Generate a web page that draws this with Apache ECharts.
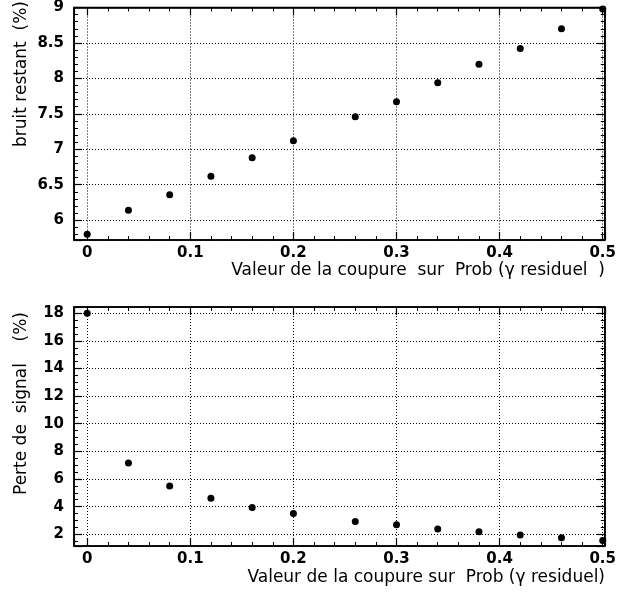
<!DOCTYPE html>
<html>
<head>
<meta charset="utf-8">
<script src="https://cdn.jsdelivr.net/npm/echarts@6/dist/echarts.min.js"></script>
<style>
html,body{margin:0;padding:0;background:#fff;}
#c{width:619px;height:595px;}
</style>
</head>
<body>
<div id="c"></div>
<script>
// Data
var cutValues = [0, 0.04, 0.08, 0.12, 0.16, 0.20, 0.26, 0.30, 0.34, 0.38, 0.42, 0.46, 0.50];
var bruitRestant = [5.80, 6.14, 6.36, 6.62, 6.88, 7.12, 7.46, 7.67, 7.94, 8.20, 8.42, 8.70, 8.98];
var perteSignal = [18.0, 7.16, 5.49, 4.61, 3.93, 3.50, 2.92, 2.68, 2.38, 2.19, 1.95, 1.75, 1.54];
var xTitleTop = 'Valeur de la coupure  sur  Prob (\u03b3 residuel  )';
var xTitleBottom = 'Valeur de la coupure sur  Prob (\u03b3 residuel)';
var yTitleTop = 'bruit restant  (%)';
var yTitleBottom = 'Perte de  signal    (%)';

var FONT = 'DejaVu Sans';
var TITLE_FONT = '17px "DejaVu Sans"';
function pairs(xs, ys){ return xs.map(function(x,i){ return [x, ys[i]]; }); }
function onStep(v, step){ var r = v/step; return Math.abs(r - Math.round(r)) < 1e-6; }
function fmt(step){
  return function(v){ if(!onStep(v, step)) return ''; return String(parseFloat(v.toFixed(6))); };
}

function xAxes(gi){
  var common = {
    type:'value', gridIndex:gi, min:-0.0128, max:0.502, splitNumber:5,
    axisLine:{show:true, onZero:false, lineStyle:{color:'#000', width:1.5}},
    axisTick:{show:true, inside:true, length:8, lineStyle:{color:'#000', width:1.2}},
    minorTick:{show:true, splitNumber:5, length:4, lineStyle:{color:'#000', width:1}},
    splitLine:{show:false}, minorSplitLine:{show:false}
  };
  var bottom = Object.assign({}, common, {
    position:'bottom',
    axisLabel:{show:true, interval:0, margin:6, color:'#000', fontFamily:FONT, fontSize:15, fontWeight:'bold', formatter:fmt(0.1)},
    splitLine:{show:true, lineStyle:{color:'#000', type:[1,2], width:1}}
  });
  var top = Object.assign({}, common, {position:'top', axisLabel:{show:false}});
  return [bottom, top];
}
function yAxes(gi, mn, mx, step, minor){
  var common = {
    type:'value', gridIndex:gi, min:mn, max:mx,
    axisLine:{show:true, onZero:false, lineStyle:{color:'#000', width:1.5}},
    axisTick:{show:true, inside:true, length:8, lineStyle:{color:'#000', width:1.2}},
    minorTick:{show:true, splitNumber:minor, length:4, lineStyle:{color:'#000', width:1}},
    splitLine:{show:false}, minorSplitLine:{show:false}
  };
  var left = Object.assign({}, common, {
    position:'left', splitNumber: Math.round((mx-mn)/step),
    axisLabel:{show:true, interval:0, margin:10, color:'#000', fontFamily:FONT, fontSize:15, fontWeight:'bold', formatter:fmt(step)},
    splitLine:{show:true, lineStyle:{color:'#000', type:[1,2], width:1}}
  });
  var right = Object.assign({}, common, {position:'right', splitNumber: Math.round((mx-mn)/step), axisLabel:{show:false}});
  return [left, right];
}

var xa = xAxes(0).concat(xAxes(1));
var ya = yAxes(0, 5.72, 9.0, 0.5, 5).concat(yAxes(1, 1.15, 18.45, 2, 4));

var chart = echarts.init(document.getElementById('c'), null, {renderer:'canvas'});
chart.setOption({
  animation:false,
  backgroundColor:'#fff',
  grid:[
    {left:74, right:11, top:4, height:236, show:true, borderColor:'#000', borderWidth:1.5, backgroundColor:'transparent'},
    {left:74, right:11, top:307, height:239, show:true, borderColor:'#000', borderWidth:1.5, backgroundColor:'transparent'}
  ],
  xAxis: xa,
  yAxis: ya,
  graphic:[
    {type:'text', x:605, y:271, style:{text:xTitleTop, fill:'#000', font:TITLE_FONT, textAlign:'right', textVerticalAlign:'middle'}},
    {type:'text', x:605, y:578, style:{text:xTitleBottom, fill:'#000', font:TITLE_FONT, textAlign:'right', textVerticalAlign:'middle'}},
    {type:'text', x:22, y:1, rotation:Math.PI/2, style:{text:yTitleTop, fill:'#000', font:TITLE_FONT, textAlign:'right', textVerticalAlign:'middle'}},
    {type:'text', x:22, y:312, rotation:Math.PI/2, style:{text:yTitleBottom, fill:'#000', font:TITLE_FONT, textAlign:'right', textVerticalAlign:'middle'}}
  ],
  series:[
    {type:'scatter', xAxisIndex:0, yAxisIndex:0, data:pairs(cutValues, bruitRestant), symbol:'circle', symbolSize:7, itemStyle:{color:'#000', opacity:1}, z:5},
    {type:'scatter', xAxisIndex:2, yAxisIndex:2, data:pairs(cutValues, perteSignal), symbol:'circle', symbolSize:7, itemStyle:{color:'#000', opacity:1}, z:5}
  ]
});
</script>
</body>
</html>
